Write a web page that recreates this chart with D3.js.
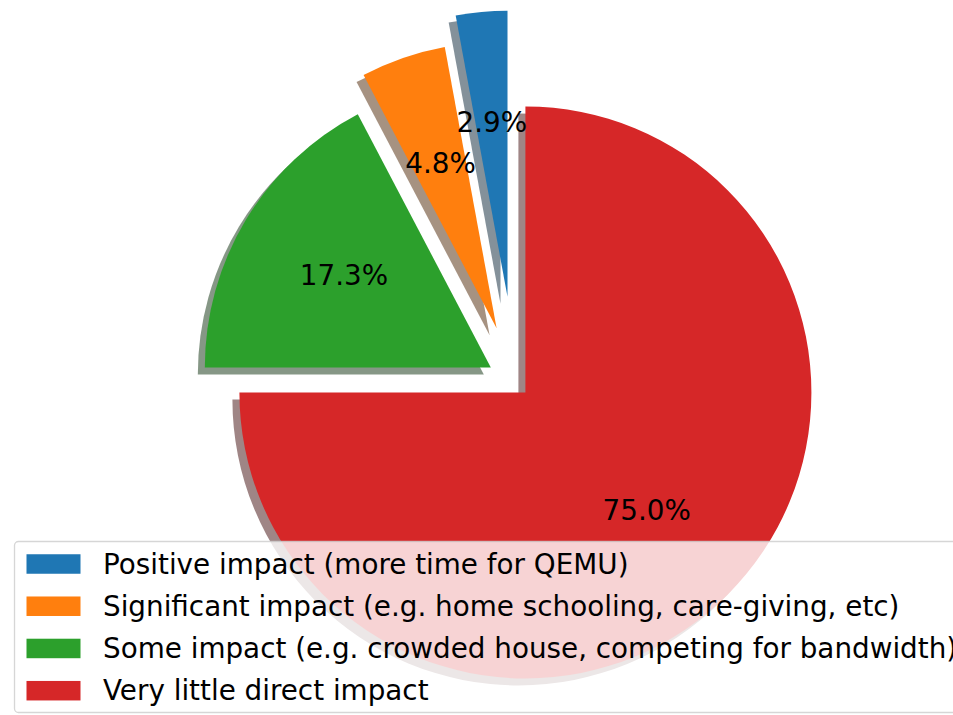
<!DOCTYPE html>
<html>
<head>
<meta charset="utf-8">
<script src="https://cdn.jsdelivr.net/npm/d3@7"></script>
<style>
  html, body { margin: 0; padding: 0; background: #ffffff; }
  svg { display: block; }
  text { font-family: "DejaVu Sans", sans-serif; }
</style>
</head>
<body>
<svg id="chart" width="953" height="715"></svg>
<script>
// ---- data ----
const categories = [
  "Positive impact (more time for QEMU)",
  "Significant impact (e.g. home schooling, care-giving, etc)",
  "Some impact (e.g. crowded house, competing for bandwidth)",
  "Very little direct impact"
];
const values = [2.9, 4.8, 17.3, 75.0];
const explode = [0.3, 0.2, 0.1, 0.05];
const colors = ["#1f77b4", "#ff7f0e", "#2ca02c", "#d62728"];

// ---- layout ----
const W = 953, H = 715;
const cx = 515.3, cy = 382.3, R = 286;
const shadowDx = -7, shadowDy = 7;
const fontSize = 27.8;

const svg = d3.select("#chart");

const pie = d3.pie().sort(null).value(d => d).startAngle(0).endAngle(-2 * Math.PI);
const arcs = pie(values);
const arc = d3.arc().innerRadius(0).outerRadius(R);

function offset(a, i) {
  const mid = (a.startAngle + a.endAngle) / 2;
  const e = explode[i] * R;
  return [Math.sin(mid) * e, -Math.cos(mid) * e];
}

const g = svg.append("g").attr("transform", `translate(${cx},${cy})`);

// shadows (0.3 * face colour, alpha 0.5)
g.selectAll("path.shadow").data(arcs).join("path")
  .attr("class", "shadow")
  .attr("d", arc)
  .attr("transform", (d, i) => {
    const [ox, oy] = offset(d, i);
    return `translate(${ox + shadowDx},${oy + shadowDy})`;
  })
  .attr("fill", (d, i) => {
    const c = d3.rgb(colors[i]);
    return d3.rgb(c.r * 0.3, c.g * 0.3, c.b * 0.3).toString();
  })
  .attr("opacity", 0.5);

// slices
g.selectAll("path.slice").data(arcs).join("path")
  .attr("class", "slice")
  .attr("d", arc)
  .attr("transform", (d, i) => {
    const [ox, oy] = offset(d, i);
    return `translate(${ox},${oy})`;
  })
  .attr("fill", (d, i) => colors[i]);

// percentage labels at 0.6 R
g.selectAll("text.pct").data(arcs).join("text")
  .attr("class", "pct")
  .attr("x", (d, i) => {
    const [ox] = offset(d, i);
    const mid = (d.startAngle + d.endAngle) / 2;
    return ox + Math.sin(mid) * R * 0.6;
  })
  .attr("y", (d, i) => {
    const [, oy] = offset(d, i);
    const mid = (d.startAngle + d.endAngle) / 2;
    return oy - Math.cos(mid) * R * 0.6 + 6.5;
  })
  .attr("text-anchor", "middle")
  .attr("font-size", fontSize)
  .attr("fill", "#000")
  .text(d => d.value.toFixed(1) + "%");

// ---- legend ----
const lg = svg.append("g");
lg.append("rect")
  .attr("x", 14.5).attr("y", 541.5)
  .attr("width", 980).attr("height", 171)
  .attr("rx", 4).attr("ry", 4)
  .attr("fill", "#ffffff").attr("fill-opacity", 0.8)
  .attr("stroke", "#cccccc").attr("stroke-opacity", 0.8).attr("stroke-width", 1.3);

const rowY = d3.scalePoint().domain(categories).range([564, 690.7]);

lg.selectAll("rect.handle").data(categories).join("rect")
  .attr("class", "handle")
  .attr("x", 26.5).attr("width", 54)
  .attr("y", d => rowY(d) - 9.75).attr("height", 19.5)
  .attr("fill", (d, i) => colors[i]);

lg.selectAll("text.lab").data(categories).join("text")
  .attr("class", "lab")
  .attr("x", 103)
  .attr("y", d => rowY(d) + 9.5)
  .attr("font-size", fontSize)
  .attr("fill", "#000")
  .text(d => d);
</script>
</body>
</html>
